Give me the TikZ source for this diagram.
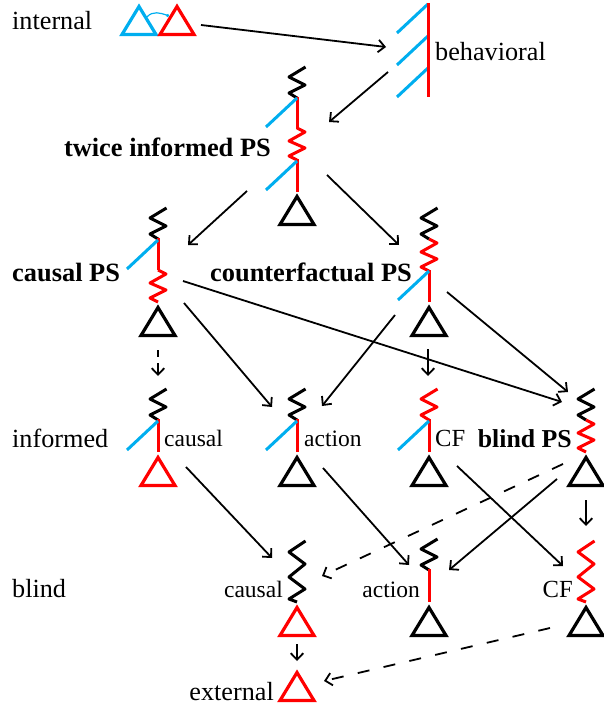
\documentclass[tikz,border=0pt]{standalone}
\usepackage{fontspec}
\setmainfont{Liberation Serif}
\usetikzlibrary{arrows.meta}
\definecolor{cblue}{HTML}{00AEEF}
\definecolor{cred}{HTML}{FF0000}
\newcommand{\trig}[3]{\draw[tri,#3] (#1,#2+3.5) -- (#1+17,#2+31.5) -- (#1-17,#2+31.5) -- cycle;}
\newcommand{\sprg}[3]{\draw[struct,spr,#3] (#1+8.5,#2+1) -- (#1-8,#2+11) -- (#1+8,#2+19) -- (#1-8,#2+27) -- (#1,#2+32);}
\newcommand{\sprghook}[3]{\draw[struct,spr,#3] (#1,#2) -- (#1+8,#2+4) -- (#1-8,#2+13) -- (#1+8,#2+20) -- (#1-8,#2+28) -- (#1,#2+32);}
\newcommand{\sprgdbl}[3]{\draw[struct,spr,#3] (#1+8.5,#2+2) -- (#1-8,#2+13) -- (#1+8,#2+25) -- (#1-8,#2+38) -- (#1+8,#2+50) -- (#1-8,#2+60) -- (#1,#2+63);}
\newcommand{\blueln}[2]{\draw[struct,cblue] (#1,#2) -- (#1-31,#2+29);}
\newcommand{\redln}[3]{\draw[struct,cred] (#1,#2) -- (#1,#3);}
\tikzset{
  struct/.style={line width=3pt,line cap=butt,line join=miter},
  spr/.style={line join=round,line width=3pt},
  tri/.style={line width=3.2pt,line join=miter,miter limit=10},
  arr/.style={line width=1.8pt,-{Straight Barb[length=6.5pt,width=12.5pt,line width=1.8pt]}},
  darr/.style={arr,dash pattern=on 12pt off 14.5pt},
  big/.style={inner sep=0pt,font=\fontsize{26.2}{30}\selectfont},
  small/.style={inner sep=0pt,font=\fontsize{23.5}{28}\selectfont},
  cfl/.style={inner sep=0pt,font=\fontsize{24.6}{28}\selectfont},
  bold/.style={inner sep=0pt,font=\fontsize{26.4}{30}\selectfont\bfseries},
  boldb/.style={inner sep=0pt,font=\fontsize{25.8}{30}\selectfont\bfseries}
}
\begin{document}
\begin{tikzpicture}[x=1pt,y=-1pt]
\useasboundingbox (0,0) rectangle (603,708);
% labels
\node[big,anchor=base west] (Linternal) at (12,30) {internal};
\node[big,anchor=base west] (Lbehav) at (435,61) {behavioral};
\node[bold,anchor=base east] (Ltwice) at (271,157) {twice informed PS};
\node[bold,anchor=base west] (Lcausalps) at (12,281) {causal PS};
\node[bold,anchor=base east] (Lcfps) at (412,281) {counterfactual PS};
\node[big,anchor=base west] (Linformed) at (12,447) {informed};
\node[small,anchor=base west] (Lic) at (164,446) {causal};
\node[small,anchor=base west] (Lia) at (304,446) {action};
\node[cfl,anchor=base west] (Lif) at (435,446) {CF};
\node[boldb,anchor=base east] (Lblindps) at (572,447) {blind PS};
\node[big,anchor=base west] (Lblind) at (12,597) {blind};
\node[small,anchor=base east] (Lbc) at (283,597) {causal};
\node[small,anchor=base east] (Lba) at (420,597) {action};
\node[cfl,anchor=base east] (Lbf) at (573,597) {CF};
\node[big,anchor=base east] (Lext) at (274,700) {external};
% internal
\trig{139}{3}{cblue}
\trig{177}{3}{cred}
\draw[cblue,line width=1.2pt,-{Circle[length=3pt]}] (147,17) to[out=50,in=160] (169,16);
% behavioral
\blueln{428}{4}\blueln{428}{36}\blueln{428}{68}
\redln{428}{3}{97}
% twice informed
\sprg{297}{66}{black}
\redln{297}{97}{129}
\blueln{297}{98}
\sprghook{297}{128}{cred}
\redln{297}{159}{192}
\blueln{297}{161}
\trig{297}{193}{black}
% causal PS
\sprg{158}{207}{black}
\redln{158}{238}{270}
\blueln{158}{240}
\sprghook{158}{270}{cred}
\trig{158}{304}{black}
% counterfactual PS
\sprg{429}{207}{black}
\sprghook{429}{239}{cred}
\redln{429}{270}{302}
\blueln{429}{271}
\trig{429}{304}{black}
% informed row
\sprg{158}{388}{black}
\redln{158}{419}{452}
\blueln{158}{421}
\trig{158}{454}{cred}
\sprg{297}{388}{black}
\redln{297}{419}{452}
\blueln{297}{421}
\trig{297}{454}{black}
\sprg{429}{388}{cred}
\redln{429}{419}{452}
\blueln{429}{421}
\trig{429}{454}{black}
\sprg{586}{388}{black}
\sprghook{586}{420}{cred}
\trig{586}{454}{black}
% blind row
\sprgdbl{297}{539}{black}
\trig{297}{604}{cred}
\sprg{429}{538}{black}
\redln{429}{569}{602}
\trig{429}{604}{black}
\sprgdbl{586}{539}{cred}
\trig{586}{604}{black}
\trig{297}{669}{cred}
% arrow ends
\coordinate (a1) at (201,25);   \coordinate (b1) at (386,47);
\coordinate (a2) at (388,72);   \coordinate (b2) at (329,122);
\coordinate (a3) at (247,191);  \coordinate (b3) at (188,245);
\coordinate (a4) at (327,175);  \coordinate (b4) at (399,245);
\coordinate (a5) at (183,281);  \coordinate (b5) at (562,402);
\coordinate (a6) at (184,303);  \coordinate (b6) at (272,407);
\coordinate (a7) at (395,315);  \coordinate (b7) at (322,406);
\coordinate (a8) at (447,292);  \coordinate (b8) at (568,392);
\coordinate (a9) at (158,350);  \coordinate (b9) at (158,376);
\coordinate (a10) at (428,349); \coordinate (b10) at (428,376);
\coordinate (a11) at (186,467); \coordinate (b11) at (272,558);
\coordinate (a12) at (323,468); \coordinate (b12) at (409,565);
\coordinate (a13) at (457,466); \coordinate (b13) at (563,566);
\coordinate (a14) at (557,479); \coordinate (b14) at (449,570);
\coordinate (a15) at (563,464); \coordinate (b15) at (322,576);
\coordinate (a16) at (586,500); \coordinate (b16) at (586,526);
\coordinate (a17) at (297,644); \coordinate (b17) at (297,661);
\coordinate (a18) at (550,628); \coordinate (b18) at (324,681);
\foreach \i in {1,2,3,4,5,6,7,8,10,11,12,13,14,16,17} {\draw[arr] (a\i) -- (b\i);}
\foreach \i in {15,18} {\draw[darr] (a\i) -- (b\i);}
\draw[arr,dash pattern=on 7pt off 6pt on 20pt off 0pt] (a9) -- (b9);
\end{tikzpicture}
\end{document}
